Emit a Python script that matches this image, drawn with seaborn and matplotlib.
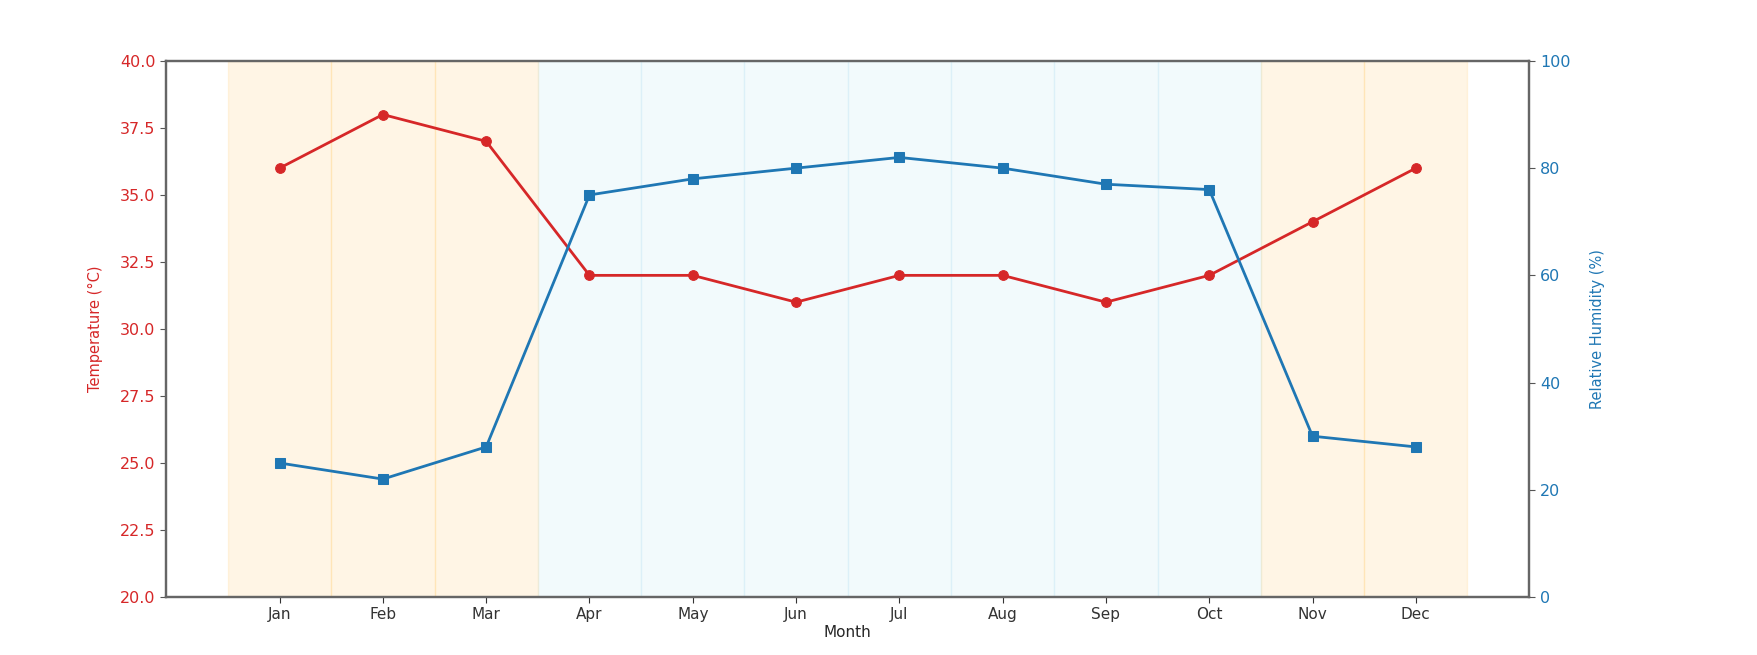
import numpy as np
import pandas as pd
import matplotlib
matplotlib.use("Agg")
import matplotlib.pyplot as plt
import seaborn as sns

months = ['Jan', 'Feb', 'Mar', 'Apr', 'May', 'Jun', 'Jul', 'Aug', 'Sep', 'Oct', 'Nov', 'Dec']
temperature = [36, 38, 37, 32, 32, 31, 32, 32, 31, 32, 34, 36]
humidity = [25, 22, 28, 75, 78, 80, 82, 80, 77, 76, 30, 28]
season = ['dry', 'dry', 'dry', 'wet', 'wet', 'wet', 'wet', 'wet', 'wet', 'wet', 'dry', 'dry']

cor_temp = '#d62728'
cor_umid = '#1f77b4'
cor_estacao = {'dry': 'orange', 'wet': 'skyblue'}

sns.set_style('white')
plt.rcParams['font.family'] = ['DejaVu Sans']

df = pd.DataFrame({'pos': np.arange(len(months)), 'Month': months,
                   'Temperature': temperature, 'Humidity': humidity})

fig, ax1 = plt.subplots(figsize=(17.58, 6.55), dpi=100)
fig.subplots_adjust(left=0.0944, right=0.870, top=0.907, bottom=0.0885)

# faixas de estação, uma por mês
for i, s in enumerate(season):
    ax1.axvspan(i - 0.5, i + 0.5, color=cor_estacao[s], alpha=0.1)

sns.lineplot(data=df, x='pos', y='Temperature', ax=ax1, color=cor_temp,
             marker='o', markersize=7, markeredgecolor=cor_temp, linewidth=2)
ax1.set_ylim(20, 40)
ticks_t = np.arange(20, 40.1, 2.5)
ax1.set_yticks(ticks_t)
ax1.set_yticklabels([f'{v:.1f}' for v in ticks_t])
ax1.set_ylabel('Temperature (°C)', color=cor_temp, fontsize=10.5, labelpad=12)
ax1.tick_params(axis='y', colors=cor_temp, labelsize=11.5, length=4, left=True)
ax1.tick_params(axis='x', labelsize=11, length=4, bottom=True, colors='#333333')
ax1.set_xticks(df['pos'])
ax1.set_xticklabels(months)
ax1.set_xlabel('Month', fontsize=11, labelpad=2)

ax2 = ax1.twinx()
sns.lineplot(data=df, x='pos', y='Humidity', ax=ax2, color=cor_umid,
             marker='s', markersize=7, markeredgecolor=cor_umid, linewidth=2)
ax2.set_ylim(0, 100)
ax2.set_yticks(range(0, 101, 20))
ax2.set_ylabel('Relative Humidity (%)', color=cor_umid, fontsize=10.5, labelpad=14)
ax2.tick_params(axis='y', colors=cor_umid, labelsize=11.5, length=4, right=True)

ax1.set_xlim(-1.1, 12.1)
for ax in (ax1, ax2):
    for sp in ax.spines.values():
        sp.set_color('#666666')
        sp.set_linewidth(1.6)
ax1.tick_params(axis='y', color='#555555')
ax2.tick_params(axis='y', color='#555555')

plt.savefig('out.png', dpi=100)
